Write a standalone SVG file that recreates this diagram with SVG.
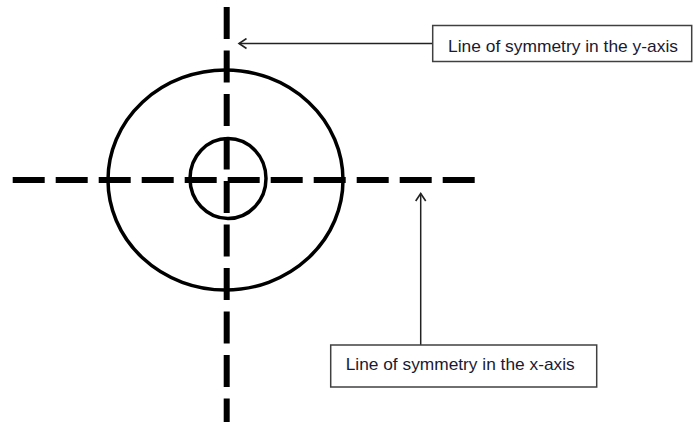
<svg xmlns="http://www.w3.org/2000/svg" width="693" height="423" viewBox="0 0 693 423">
<style>
.axis{stroke:#000;stroke-width:6;fill:none}
.ring{stroke:#000;stroke-width:3.5;fill:none}
.box{fill:#fff;stroke:#404040;stroke-width:1.5}
.lbl{font-family:"Liberation Sans",Arial,sans-serif;font-size:17px;fill:#1a1a33}
.conn{stroke:#222;stroke-width:1.5;fill:none}
</style>
<defs>
<marker id="open" markerWidth="12" markerHeight="12" refX="8.5" refY="6" orient="auto" markerUnits="userSpaceOnUse">
<path d="M1,1 L8.5,6 L1,11" fill="none" stroke="#222" stroke-width="1.6"/>
</marker>
</defs>
<rect width="693" height="423" fill="#fff"/>
<g id="shape">
<ellipse class="ring" cx="225.5" cy="180" rx="117.5" ry="110"/>
<ellipse class="ring" cx="228" cy="178.5" rx="38" ry="40"/>
<line class="axis" x1="226.7" y1="7" x2="226.7" y2="422" stroke-dasharray="32 11.5"/>
<line class="axis" x1="12.7" y1="180" x2="475" y2="180" stroke-dasharray="32 11"/>
</g>
<g id="connectors">
<line class="conn" x1="432.7" y1="43.5" x2="239" y2="43.5" marker-end="url(#open)"/>
<line class="conn" x1="420.7" y1="345" x2="420.7" y2="193.5" marker-end="url(#open)"/>
</g>
<g id="label-y">
<rect class="box" x="432.7" y="25.5" width="259" height="36"/>
<text class="lbl" x="448" y="51.7" textLength="230" lengthAdjust="spacingAndGlyphs">Line of symmetry in the y-axis</text>
</g>
<g id="label-x">
<rect class="box" x="330.7" y="345" width="266" height="42"/>
<text class="lbl" x="345.7" y="369.5" textLength="229" lengthAdjust="spacingAndGlyphs">Line of symmetry in the x-axis</text>
</g>
</svg>
